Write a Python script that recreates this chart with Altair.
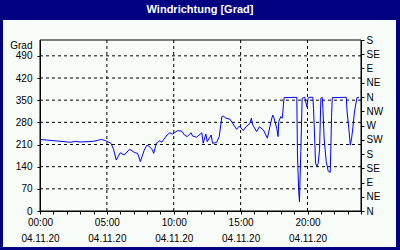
import altair as alt
import pandas as pd

# Wind direction series (hours since 00:00 on 04.11.20, degrees)
hours = [0.0, 0.5, 1.3, 1.8, 2.3, 2.6, 3.0, 3.6, 4.0, 4.6, 4.9, 5.3, 5.5, 5.7, 6.0, 6.3, 6.7,
         7.1, 7.3, 7.5, 7.8, 8.0, 8.2, 8.4, 8.5, 8.7, 8.95, 9.1, 9.5, 9.7, 9.9, 10.3, 10.6,
         10.8, 11.0, 11.3, 11.4, 11.7, 12.1, 12.2, 12.4, 12.5, 12.8, 12.9, 13.2, 13.4, 13.6,
         13.7, 13.9, 14.2, 14.4, 14.7, 14.9, 15.2, 15.4, 15.7, 15.8, 15.9, 16.2, 16.4, 16.7,
         17.0, 17.3, 17.4, 17.5, 17.7, 17.8, 17.85, 18.0, 18.1, 18.15, 18.2, 18.25, 19.2,
         19.25, 19.3, 19.35, 19.4, 19.45, 19.5, 19.6, 19.8, 19.95, 20.05, 20.1, 20.4, 20.45,
         20.55, 20.6, 20.7, 20.8, 20.9, 21.0, 21.1, 21.15, 21.25, 21.4, 21.55, 21.7, 21.75,
         21.8, 21.85, 22.9, 22.95, 23.1, 23.2, 23.3, 23.4, 23.5, 23.6, 23.7, 23.85]
degrees = [226, 224, 221, 219, 217, 220, 218, 219, 220, 226, 222, 214, 195, 161, 184, 177, 195,
           184, 182, 156, 193, 208, 203, 193, 182, 214, 222, 217, 240, 247, 243, 254, 252,
           240, 235, 247, 237, 233, 247, 214, 243, 219, 240, 214, 216, 235, 298,
           300, 293, 290, 277, 258, 268, 254, 266, 277, 293, 272, 251, 266, 256,
           230, 287, 303, 293, 261, 235, 282, 298, 293, 309, 335, 358, 359,
           177, 114, 57, 29, 114, 187, 356, 359, 329, 356, 359, 359, 324,
           214, 151, 142, 151, 193, 356, 359, 324, 224, 156, 126, 122, 208,
           298, 358, 359, 319, 256, 208, 230, 266, 309, 335, 358, 359]

left_ticks = [0, 70, 140, 210, 280, 350, 420, 490]
right_ticks = [0, 45, 90, 135, 180, 225, 270, 315, 360, 405, 450, 495, 540]
compass = ["N", "NE", "E", "SE", "S", "SW", "W", "NW", "N", "NE", "E", "SE", "S"]
grid_hours = [5, 10, 15, 20]
hour_ticks = list(range(0, 25))
date_label = "04.11.20"
title_text = "Windrichtung [Grad]"

FONT = "Liberation Sans"
NAVY = "#000080"
BG = "#f8fcf8"

line_df = pd.DataFrame({"h": hours, "v": degrees})
hgrid_df = pd.DataFrame({"g": left_ticks[1:]})
vgrid_df = pd.DataFrame({"gx": grid_hours})

xscale = alt.Scale(domain=[0, 24], nice=False, zero=False)
yscale = alt.Scale(domain=[0, 540], nice=False)

label_expr = ("datum.value % 5 == 0 ? [(datum.value < 10 ? '0' : '') + datum.value + ':00', '"
              + date_label + "'] : ''")
xaxis = alt.Axis(values=hour_ticks, title=None, grid=False, labelExpr=label_expr,
                 labelFlush=False, labelOverlap=False, tickSize=3, labelPadding=3,
                 labelLineHeight=16, labelBaseline="top", domainColor="black",
                 tickColor="black", labelColor="black", labelFont=FONT, labelFontSize=10,
                 zindex=2)

compass_expr = "[" + ",".join("'" + c + "'" for c in compass) + "][round(datum.value / 45)]"

bg = alt.Chart(pd.DataFrame({"a": [0]})).mark_rect(color=BG).encode(
    x=alt.value(-37), x2=alt.value(356), y=alt.value(-20), y2=alt.value(207)
)

title = alt.Chart(pd.DataFrame({"t": [title_text]})).mark_text(
    color="white", font=FONT, fontSize=11, fontWeight="bold", baseline="middle", align="center"
).encode(x=alt.value(160), y=alt.value(-30), text="t:N")

border = alt.Chart(pd.DataFrame({"a": [0]})).mark_rect(
    fill=None, stroke="black", strokeWidth=1, fillOpacity=0
).encode(x=alt.value(0), x2=alt.value(321), y=alt.value(0), y2=alt.value(171))

hgrid = alt.Chart(hgrid_df).mark_rule(color="black", strokeDash=[3, 3], strokeWidth=1).encode(
    y=alt.Y("g:Q", scale=yscale,
            axis=alt.Axis(values=left_ticks, grid=False, title="Grad", titleAngle=0,
                          titleAlign="right", titleBaseline="middle", titleX=-8, titleY=5,
                          titleFontWeight="normal", titleFont=FONT, titleFontSize=10,
                          titleColor="black", tickSize=3, labelPadding=5,
                          labelFont=FONT, labelFontSize=10, labelColor="black",
                          domainColor="black", tickColor="black", zindex=2))
)

vgrid = alt.Chart(vgrid_df).mark_rule(color="black", strokeDash=[3, 3], strokeWidth=1).encode(
    x=alt.X("gx:Q", scale=xscale, axis=xaxis)
)

line = alt.Chart(line_df).mark_line(color="#0000ff", strokeWidth=1, interpolate="linear").encode(
    x=alt.X("h:Q", scale=xscale, axis=xaxis),
    y=alt.Y("v:Q", scale=yscale,
            axis=alt.Axis(orient="right", values=right_ticks, grid=False, title=None,
                          labelExpr=compass_expr, tickSize=3, labelPadding=2,
                          labelFont=FONT, labelFontSize=10, labelColor="black",
                          domainColor="black", tickColor="black", zindex=2))
)

chart = alt.layer(bg, title, hgrid, vgrid, border, line).resolve_scale(y="independent").properties(
    width=321,
    height=171,
    autosize=alt.AutoSizeParams(type="none"),
    padding={"left": 40, "top": 40, "right": 39, "bottom": 39},
    background=NAVY,
).configure_view(stroke="black", strokeWidth=1)

chart.save("out.html", embed_options={"renderer": "svg", "actions": False})
